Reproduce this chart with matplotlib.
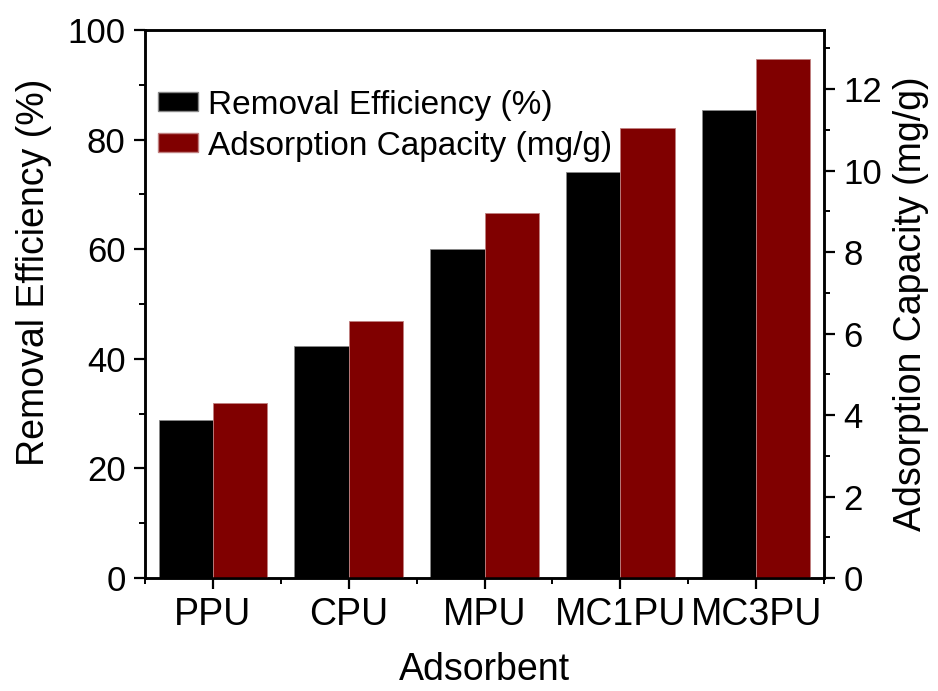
import matplotlib.pyplot as plt
import numpy as np
from matplotlib.ticker import MultipleLocator
from matplotlib.patches import Patch

plt.rcParams['font.family'] = ['Liberation Sans', 'DejaVu Sans']

# Adsorbents and measured results
adsorbents = ["PPU", "CPU", "MPU", "MC1PU", "MC3PU"]
removal_eff = [28.9, 42.4, 60.0, 74.0, 85.4]      # %
ads_capacity = [4.30, 6.32, 8.97, 11.04, 12.75]   # mg/g

x = np.arange(len(adsorbents))
w = 0.4

fig = plt.figure(figsize=(9.38, 6.91), dpi=100)
ax = fig.add_axes([0.1546, 0.1635, 0.7239, 0.7931])
ax2 = ax.twinx()

ax.bar(x - w / 2, removal_eff, width=w, color="black", edgecolor="#888888", linewidth=0.6)
ax2.bar(x + w / 2, ads_capacity, width=w, color="#800000", edgecolor="#c08080", linewidth=0.6)

ax.set_xlim(-0.5, 4.5)
ax.set_ylim(0, 100)
ax2.set_ylim(0, 13.45)

ax.set_xticks(x)
ax.set_xticklabels(adsorbents)
ax.xaxis.set_minor_locator(MultipleLocator(1, offset=0.5))
ax.yaxis.set_major_locator(MultipleLocator(20))
ax.yaxis.set_minor_locator(MultipleLocator(10))
ax2.yaxis.set_major_locator(MultipleLocator(2))
ax2.yaxis.set_minor_locator(MultipleLocator(1))

for a in (ax, ax2):
    for s in a.spines.values():
        s.set_linewidth(1.8)
    a.tick_params(which="major", direction="out", length=8, width=1.6, labelsize=25, pad=6)
    a.tick_params(which="minor", direction="out", length=4.5, width=1.4)
ax.tick_params(axis="x", which="major", labelsize=27, pad=6)

ax.set_xlabel("Adsorbent", fontsize=27, labelpad=13)
ax.set_ylabel("Removal Efficiency (%)", fontsize=27)
ax.yaxis.set_label_coords(-0.137, 0.558)
ax2.set_ylabel("Adsorption Capacity (mg/g)", fontsize=27, labelpad=8)

handles = [Patch(facecolor="black", edgecolor="#888888"),
           Patch(facecolor="#800000", edgecolor="#c08080")]
ax.legend(handles, ["Removal Efficiency (%)", "Adsorption Capacity (mg/g)"],
          loc="upper left", bbox_to_anchor=(-0.02, 0.94), frameon=False, fontsize=24,
          handlelength=1.2, handleheight=0.5, handletextpad=0.3, labelspacing=0.3,
          borderaxespad=0.4)

fig.savefig("out.png", dpi=100)
